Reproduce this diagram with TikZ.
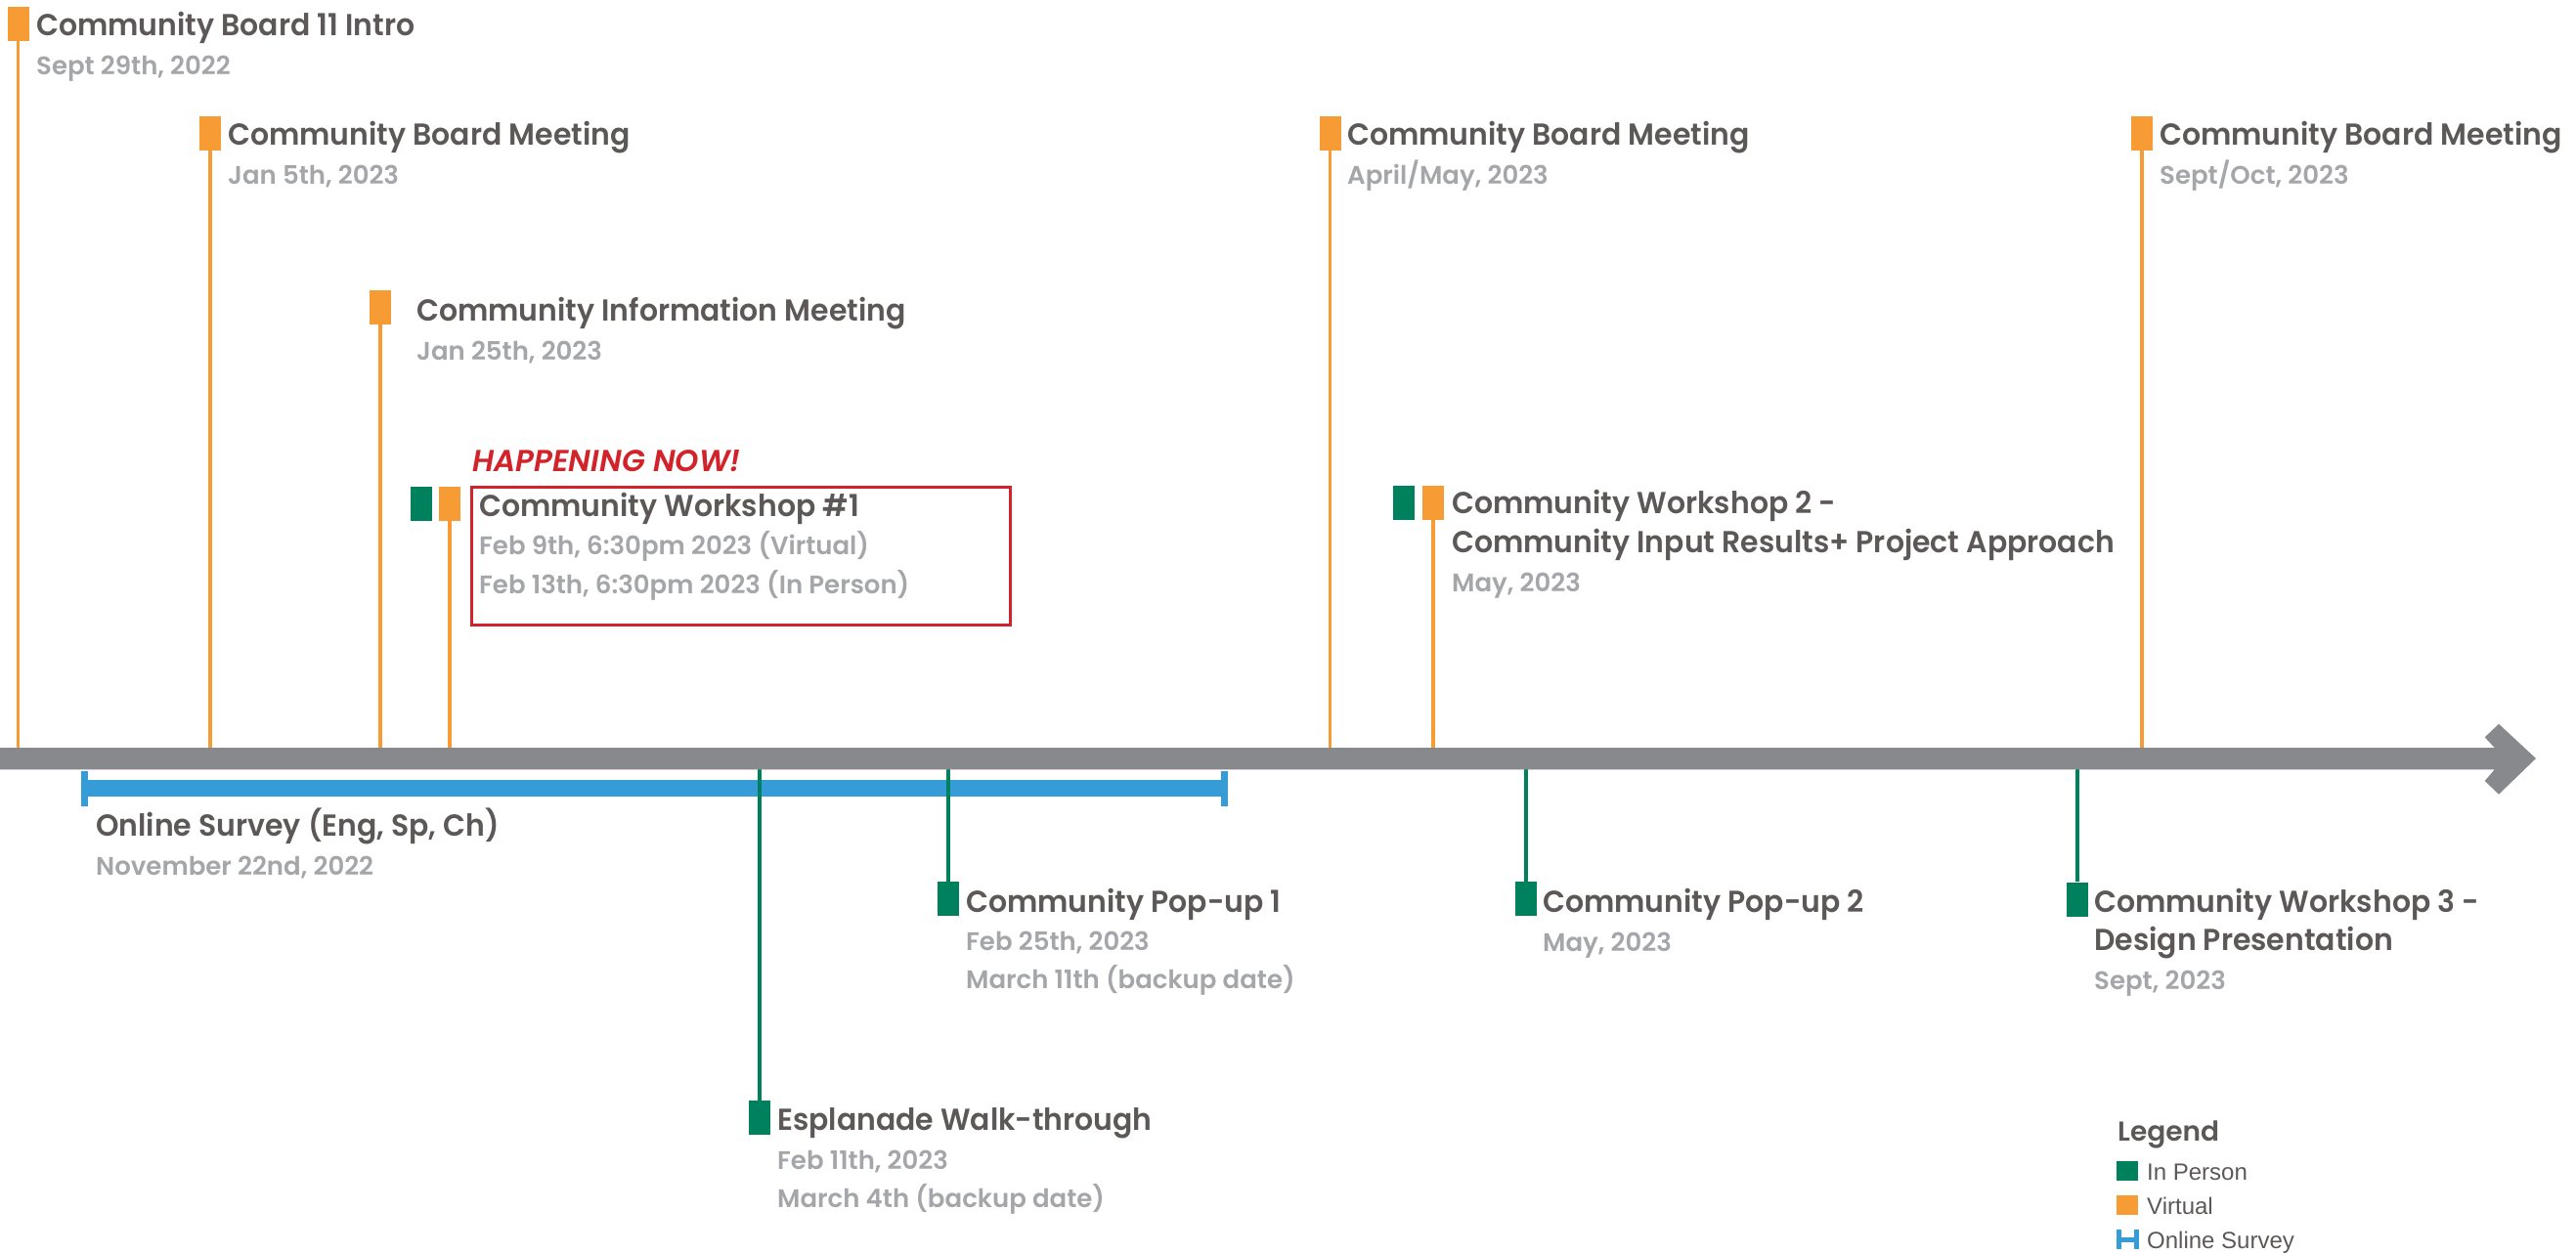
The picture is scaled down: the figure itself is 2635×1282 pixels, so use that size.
\documentclass[tikz,border=0pt]{standalone}
\usepackage{fontspec}
\IfFontExistsTF{Poppins SemiBold}{%
  \setmainfont{Poppins}[BoldFont={Poppins SemiBold},BoldItalicFont={Poppins SemiBold Italic}]%
  \newfontfamily\ttlfont{Poppins SemiBold}[FakeStretch=0.965]}{%
  \setmainfont{Poppins}%
  \newfontfamily\ttlfont{Poppins Bold}[FakeStretch=0.965]}
\newfontfamily\legfont{Liberation Sans}
\definecolor{virt}{HTML}{F79B34}
\definecolor{inper}{HTML}{00815D}
\definecolor{axisgray}{HTML}{88898D}
\definecolor{titlegray}{HTML}{5C5857}
\definecolor{dategray}{HTML}{A5A6A9}
\definecolor{nowred}{HTML}{D2232A}
\definecolor{survey}{HTML}{359CD7}
\begin{document}
\begin{tikzpicture}[x=1pt,y=-1pt,
  ttl/.style={anchor=base west, inner sep=0, text=titlegray, font=\fontsize{31}{37}\selectfont\ttlfont},
  dt/.style={anchor=base west, inner sep=0, text=dategray, font=\fontsize{26}{31}\selectfont\bfseries},
  hap/.style={anchor=base west, inner sep=0, text=nowred, font=\fontsize{31}{37}\selectfont\bfseries\itshape},
  leg/.style={anchor=base west, inner sep=0, text=titlegray, font=\fontsize{24}{29}\selectfont\legfont},
  vmark/.style={rectangle, fill=virt, minimum width=22pt, minimum height=35pt, inner sep=0},
  pmark/.style={rectangle, fill=inper, minimum width=22pt, minimum height=35pt, inner sep=0},
  vline/.style={draw=virt, line width=3.5pt},
  pline/.style={draw=inper, line width=3.5pt},
  sbar/.style={draw=survey, line width=17pt},
  scap/.style={draw=survey, line width=7pt}
]
\useasboundingbox (0,0) rectangle (2635,1282);
\coordinate (axL) at (0,776);
\coordinate (axR) at (2594,776);

% ---- top (virtual) events
\node[vmark] (m1) at (18.5,24) {};
\node[ttl] (t1) at (37,36) {Community Board 11 Intro};
\node[dt] (d1) at (37,76) {Sept 29th, 2022};

\node[vmark] (m2) at (215,136) {};
\node[ttl] (t2) at (233,148) {Community Board Meeting};
\node[dt] (d2) at (233,188) {Jan 5th, 2023};

\node[vmark] (m3) at (389,314.5) {};
\node[ttl] (t3) at (426,328) {Community Information Meeting};
\node[dt] (d3) at (426,368) {Jan 25th, 2023};

\node[pmark] (m4g) at (431,515) {};
\node[vmark] (m4v) at (460,515) {};
\node[hap] (hn) at (483,482) {HAPPENING NOW!};
\node[rectangle, draw=nowred, line width=2.5pt, minimum width=551pt, minimum height=141pt, anchor=north west, inner sep=0] (box) at (481,497) {};
\node[ttl] (t4) at (490,528) {Community Workshop \#1};
\node[dt] (d4a) at (490,567) {Feb 9th, 6:30pm 2023 (Virtual)};
\node[dt] (d4b) at (490,607) {Feb 13th, 6:30pm 2023 (In Person)};

\node[vmark] (m5) at (1360.5,136) {};
\node[ttl] (t5) at (1378,148) {Community Board Meeting};
\node[dt] (d5) at (1378,188) {April/May, 2023};

\node[pmark] (m6g) at (1435.5,514.5) {};
\node[vmark] (m6v) at (1466,514.5) {};
\node[ttl] (t6a) at (1485,525) {Community Workshop 2 -};
\node[ttl] (t6b) at (1485,565) {Community Input Results+ Project Approach};
\node[dt] (d6) at (1485,605) {May, 2023};

\node[vmark] (m7) at (2191,136) {};
\node[ttl] (t7) at (2209,148) {Community Board Meeting};
\node[dt] (d7) at (2209,188) {Sept/Oct, 2023};

% ---- bottom (in person) events
\node[pmark] (b1) at (777,1143.5) {};
\node[ttl] (bt1) at (795,1156) {Esplanade Walk-through};
\node[dt] (bd1a) at (795,1196) {Feb 11th, 2023};
\node[dt] (bd1b) at (795,1235) {March 4th (backup date)};

\node[pmark] (b2) at (970,919.5) {};
\node[ttl] (bt2) at (988,933) {Community Pop-up 1};
\node[dt] (bd2a) at (988,972) {Feb 25th, 2023};
\node[dt] (bd2b) at (988,1011) {March 11th (backup date)};

\node[pmark] (b3) at (1561,919.5) {};
\node[ttl] (bt3) at (1578,933) {Community Pop-up 2};
\node[dt] (bd3) at (1578,973) {May, 2023};

\node[pmark] (b4) at (2125,920) {};
\node[ttl] (bt4a) at (2142,933) {Community Workshop 3 -};
\node[ttl] (bt4b) at (2142,972) {Design Presentation};
\node[dt] (bd4) at (2142,1012) {Sept, 2023};

% ---- online survey
\coordinate (sL) at (86.5,806.5);
\coordinate (sR) at (1252,806.5);
\draw[sbar] (sL) -- (sR);
\draw[scap] ([yshift=-18]sL) -- ([yshift=18]sL);
\draw[scap] ([yshift=-18]sR) -- ([yshift=18]sR);
\node[ttl] (st) at (98,855) {Online Survey (Eng, Sp, Ch)};
\node[dt] (sd) at (98,895) {November 22nd, 2022};

% ---- connectors
\draw[vline] (m1.south) -- (m1.south |- axL);
\draw[vline] (m2.south) -- (m2.south |- axL);
\draw[vline] (m3.south) -- (m3.south |- axL);
\draw[vline] (m4v.south) -- (m4v.south |- axL);
\draw[vline] (m5.south) -- (m5.south |- axL);
\draw[vline] (m6v.south) -- (m6v.south |- axL);
\draw[vline] (m7.south) -- (m7.south |- axL);
\draw[pline] (b1.north |- axL) -- (b1.north);
\draw[pline] (b2.north |- axL) -- (b2.north);
\draw[pline] (b3.north |- axL) -- (b3.north);
\draw[pline] (b4.north |- axL) -- (b4.north);

% ---- axis arrow
\fill[axisgray] (0,765) -- (2551.7,765) -- (2541.7,754.3) -- (2556,740.7) -- (axR) -- (2556,812.7) -- (2541.7,799) -- (2551.7,787.3) -- (0,787.3) -- cycle;

% ---- legend
\node[anchor=base west, inner sep=0, text=titlegray, font=\fontsize{28}{33}\selectfont\bfseries] (lg) at (2166,1167) {Legend};
\node[rectangle, fill=inper, minimum width=22pt, minimum height=20pt, inner sep=0] (lgp) at (2176,1198) {};
\node[rectangle, fill=virt, minimum width=22pt, minimum height=20pt, inner sep=0] (lgv) at (2176,1233) {};
\node[rectangle, minimum width=22pt, minimum height=20pt, inner sep=0] (lgs) at (2176.5,1268) {};
\draw[survey, line width=5pt] ([xshift=2.5]lgs.north west) -- ([xshift=2.5]lgs.south west);
\draw[survey, line width=5pt] ([xshift=-2.5]lgs.north east) -- ([xshift=-2.5]lgs.south east);
\draw[survey, line width=5pt] (lgs.west) -- (lgs.east);
\node[leg] (lt1) at (2196,1207) {In Person};
\node[leg] (lt2) at (2196,1242) {Virtual};
\node[leg] (lt3) at (2196,1277) {Online Survey};
\end{tikzpicture}
\end{document}
